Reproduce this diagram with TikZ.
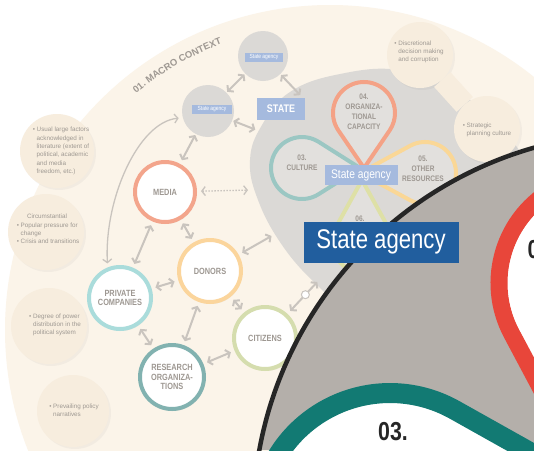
\documentclass[tikz,border=0pt]{standalone}
\usepackage{fontspec}
\setmainfont{Liberation Sans}
\newfontfamily\condfont[FakeStretch=0.82]{Liberation Sans}
\usetikzlibrary{arrows.meta,calc,shadows,decorations.text}

\definecolor{cream}{RGB}{251,244,233}
\definecolor{bubblecol}{RGB}{247,237,222}
\definecolor{stategrey}{RGB}{219,217,214}
\definecolor{pinfill}{RGB}{226,224,221}
\definecolor{paleblue}{RGB}{165,186,222}
\definecolor{fadetext}{RGB}{158,152,146}
\definecolor{arrowgrey}{RGB}{201,196,190}
\definecolor{mediaring}{RGB}{243,165,140}
\definecolor{privring}{RGB}{170,220,219}
\definecolor{donorring}{RGB}{251,213,156}
\definecolor{researchring}{RGB}{130,178,176}
\definecolor{citizenring}{RGB}{213,221,174}
\definecolor{cultring}{RGB}{155,199,195}
\definecolor{orgring}{RGB}{244,162,134}
\definecolor{resring}{RGB}{250,215,150}
\definecolor{sixring}{RGB}{222,224,166}
\definecolor{lensgrey}{RGB}{180,175,170}
\definecolor{deepteal}{RGB}{18,122,115}
\definecolor{pinred}{RGB}{232,70,58}
\definecolor{agencyblue}{RGB}{33,94,158}

\pgfdeclareradialshading{disc}{\pgfpoint{0bp}{0bp}}{color(0bp)=(white); color(33bp)=(white); color(50bp)=(black!10); color(100bp)=(black!10)}
\pgfdeclareradialshading{lensdisc}{\pgfpoint{0bp}{0bp}}{color(0bp)=(white); color(40bp)=(white); color(50bp)=(black!15); color(100bp)=(black!15)}

\newcommand{\bubdot}{\textbullet~}
\newcommand{\bubind}{\hphantom{\textbullet~}}

% #2 centre, #3 radius, #4 tip direction, #5 tip distance
\newcommand{\pinring}[5][]{%
  \pgfmathsetmacro{\pinalpha}{acos(#3/#5)}
  \draw[#1] ($(#2)+(#4:#5)$) -- ($(#2)+(#4+\pinalpha:#3)$)
    arc[start angle=#4+\pinalpha, end angle=#4+360-\pinalpha, radius=#3] -- cycle;}

\begin{document}
\begin{tikzpicture}[x=1pt,y=-1pt,
    actor/.style={circle, draw=#1, line width=4pt, shading=disc, minimum size=62pt, inner sep=0pt,
      align=center, text=fadetext, font=\condfont\bfseries\fontsize{9}{9.5}\selectfont,
      drop shadow={opacity=.1,shadow xshift=1pt,shadow yshift=-2pt}},
    agency/.style={circle, fill=stategrey, minimum size=#1, inner sep=0pt},
    bubble/.style={circle, fill=bubblecol, minimum size=#1, inner sep=0pt,
      drop shadow={opacity=.07,shadow xshift=2pt,shadow yshift=-2pt}},
    bubtext/.style={align=left, text=fadetext, font=\fontsize{6.3}{8.3}\selectfont},
    paletag/.style={fill=paleblue, text=white, inner sep=0pt, font=\condfont\fontsize{#1}{#1}\selectfont},
    petaltext/.style={align=center, text=fadetext, font=\condfont\bfseries\fontsize{8}{10}\selectfont},
    bignum/.style={text=black!85, font=\condfont\bfseries\fontsize{26}{26}\selectfont},
    link/.style={draw=arrowgrey, line width=2pt,
      {Straight Barb[length=3.5pt,width=9pt]}-{Straight Barb[length=3.5pt,width=9pt]},
      shorten <=4pt, shorten >=4pt},
  ]
  \useasboundingbox (0,0) rectangle (534,450);
  \fill[white] (0,0) rectangle (534,450);
  \fill[cream] (330,330) circle[radius=325];

  % context bubbles
  \node[bubble=74pt] (b1) at (57,151) {};
  \node[bubble=76pt] (b2) at (46,232) {};
  \node[bubble=76pt] (b3) at (49,326) {};
  \node[bubble=72pt] (b4) at (73,411) {};
  \node[bubtext] (b1t) at (61,151) {\bubdot Usual large factors\\\bubind acknowledged in\\\bubind literature (extent of\\\bubind political, academic\\\bubind and media\\\bubind freedom, etc.)};
  \node[bubtext] (b2t) at (48,229) {\bubind\quad Circumstantial\\\bubdot Popular pressure for\\\bubind change\\\bubdot Crisis and transitions};
  \node[bubtext] (b3t) at (55,325) {\bubdot Degree of power\\\bubind distribution in the\\\bubind political system};
  \node[bubtext] (b4t) at (74,410) {\bubdot Prevailing policy\\\bubind narratives};

  % state
  \fill[stategrey] plot[smooth cycle, tension=0.7] coordinates {(262,125) (290,92) (340,74) (400,70)
    (455,90) (510,138) (545,210) (520,300) (420,335) (345,305) (315,283) (282,245) (258,200) (250,160)};
  \node[bubble=66pt] (b5) at (420,55) {};
  \node[bubble=66pt] (b6) at (487,129) {};
  \draw[bubblecol, line width=22pt] (b5) -- (b6);
  \node[bubtext] (b5t) at (419,52) {\bubdot Discretional\\\bubind decision making\\\bubind and corruption};
  \node[bubtext] (b6t) at (487,130) {\bubdot Strategic\\\bubind planning culture};

  \node[agency=50pt] (s1) at (263,56) {};
  \node[agency=52pt] (s2) at (208,111) {};
  \node[paletag=6, minimum width=38pt, minimum height=9pt] (s1tag) at (264,57) {State agency};
  \node[paletag=6, minimum width=40pt, minimum height=9pt] (s2tag) at (212,109) {State agency};
  \node[paletag=11, font=\condfont\bfseries\fontsize{11}{11}\selectfont, minimum width=48pt, minimum height=22pt] (state) at (281,109) {STATE};

  \pinring[draw=sixring, fill=pinfill, line width=4pt]{362,242}{30}{270}{62}
  \pinring[draw=cultring, fill=pinfill, line width=4pt]{302,168}{31}{0}{58}
  \pinring[draw=resring, fill=pinfill, line width=4pt]{425,173}{31}{180}{65}
  \pinring[draw=orgring, fill=pinfill, line width=4pt]{364,113}{31}{90}{55}
  \node[petaltext] (org) at (364,112) {04.\\ORGANIZA-\\TIONAL\\CAPACITY};
  \node[petaltext] (cult) at (302,163) {03.\\CULTURE};
  \node[petaltext] (res) at (423,169) {05.\\OTHER\\RESOURCES};
  \node[petaltext] (six) at (360,219) {06.};
  \node[paletag=12.5, minimum width=73pt, minimum height=20pt] (agency) at (361,175) {State agency};

  % actors
  \node[actor=mediaring, minimum size=60pt] (media) at (165,192) {MEDIA};
  \node[actor=privring] (private) at (120,298) {PRIVATE\\COMPANIES};
  \node[actor=donorring] (donors) at (210,271) {DONORS};
  \node[actor=researchring, minimum size=64pt] (research) at (172,377) {RESEARCH\\ORGANIZA-\\TIONS};
  \node[actor=citizenring] (citizens) at (265,338) {CITIZENS};
  \coordinate (blobS1) at (303,98);
  \coordinate (blobS2) at (259,131);
  \coordinate (blobM) at (252,190);
  \coordinate (blobD) at (275,234);
  \coordinate (blobC) at (320,279);

  \draw[link, shorten <=1pt, shorten >=1pt] (s2) -- (s1);
  \draw[link, shorten <=1pt] (s1) -- (blobS1);
  \draw[link, shorten <=1pt] (s2) -- (blobS2);
  \draw[link, shorten <=1pt] (s2) -- (media);
  \draw[link, line width=1.3pt, dash pattern=on 1.5pt off 1.5pt] (media) -- (blobM);
  \draw[link] (media) -- (private);
  \draw[link] (media) -- (donors);
  \draw[link] (private) -- (donors);
  \draw[link] (private) -- (research);
  \draw[link] (donors) -- (research);
  \draw[link] (donors) -- (blobD);
  \draw[link] (donors) -- (citizens);
  \draw[link] (research) -- (citizens);
  \draw[link] (citizens) -- (blobC) node[pos=.55, circle, draw=arrowgrey, fill=white, line width=1pt, minimum size=8pt, inner sep=0pt] (cdot) {};
  \draw[link, line width=1.3pt] (private.112) .. controls (104,200) and (138,122) .. (s2.195);

  \path[decorate, decoration={text along path, text align=center,
      text={|\bfseries\fontsize{9.5}{9.5}\selectfont\color{fadetext}|01. MACRO CONTEXT}}]
    (330,330) ++(226:306) arc[start angle=226, end angle=254, radius=306];

  % lens
  \begin{scope}
    \clip (640,520) circle[radius=387];
    \fill[lensgrey] (0,0) rectangle (534,450);
    \pinring[draw=pinred, fill=white, line width=17pt]{607,283}{108}{90}{230}
    \shade[shading=lensdisc] (607,283) circle[radius=99];
    \pinring[draw=deepteal, fill=white, line width=20pt]{390,525}{132}{0}{270}
    \shade[shading=lensdisc] (390,525) circle[radius=121];
    \node[bignum] (num03) at (393,432) {03.};
    \node[bignum, anchor=west] (num04) at (524,250) {04.};
  \end{scope}
  \draw[black!85, line width=4.5pt] (640,520) circle[radius=387];

  \node[fill=agencyblue, text=white, minimum width=155pt, minimum height=41pt, inner sep=0pt,
    font=\condfont\fontsize{27}{27}\selectfont] (bigagency) at (381,242) {State agency};
\end{tikzpicture}
\end{document}
